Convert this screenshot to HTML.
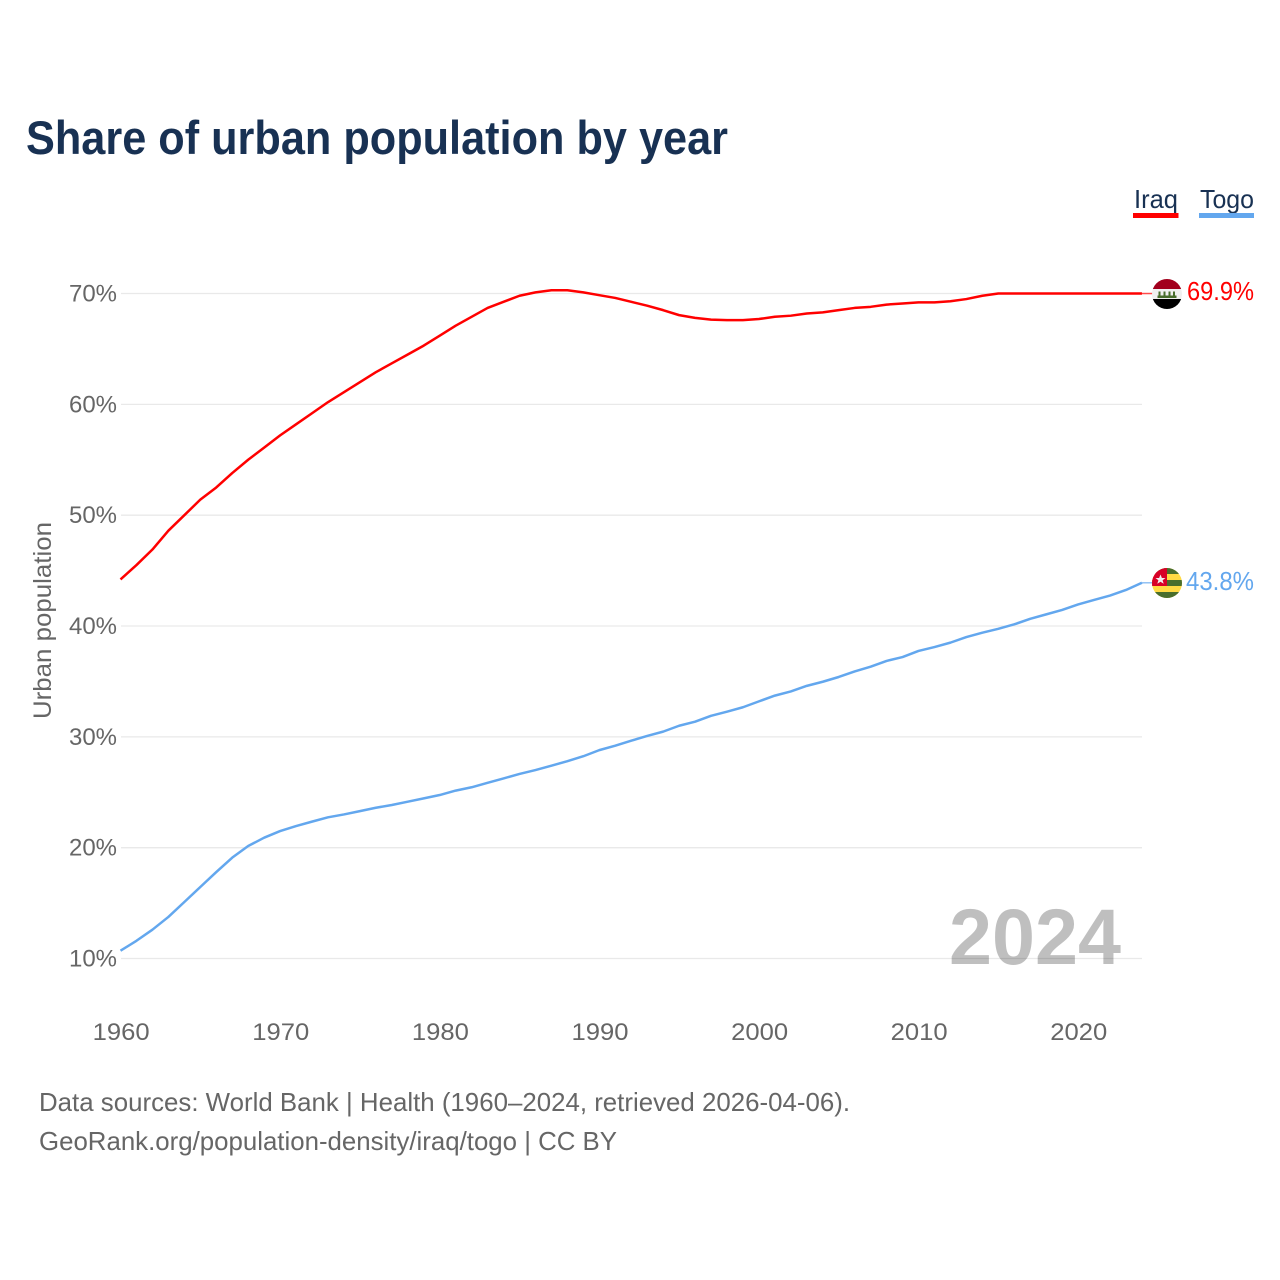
<!DOCTYPE html>
<html lang="en">
<head>
<meta charset="utf-8">
<title>Share of urban population by year</title>
<style>
html,body{margin:0;padding:0;background:#fff;width:1280px;height:1280px;overflow:hidden}
svg{display:block;font-family:"Liberation Sans",sans-serif}
</style>
</head>
<body>
<svg id="chart" width="1280" height="1280" viewBox="0 0 1280 1280" xmlns="http://www.w3.org/2000/svg">
  <rect width="1280" height="1280" fill="#ffffff"/>
  <text x="26" y="154" font-size="47" font-weight="700" fill="#183153" textLength="702" lengthAdjust="spacingAndGlyphs">Share of urban population by year</text>

  <g>
    <text x="1134" y="208" font-size="26" fill="#183153" textLength="44" lengthAdjust="spacingAndGlyphs">Iraq</text>
    <rect x="1133" y="213" width="45.5" height="5" fill="#ff0000"/>
  </g>
  <g>
    <text x="1200" y="208" font-size="26" fill="#183153" textLength="54" lengthAdjust="spacingAndGlyphs">Togo</text>
    <rect x="1199" y="213" width="55" height="5" fill="#63a7ee"/>
  </g>

  <g id="grid"></g>
  <g id="yticks"></g>
  <g id="xticks"></g>

  <text transform="translate(51,719) rotate(-90)" font-size="25" fill="#666666" textLength="197" lengthAdjust="spacingAndGlyphs">Urban population</text>

  <text x="949" y="964" font-size="79" font-weight="700" fill="#000000" fill-opacity="0.25" textLength="172" lengthAdjust="spacingAndGlyphs">2024</text>

  <g id="lines"></g>

  <defs>
    <clipPath id="iraq-clip"><circle cx="1167" cy="294" r="15"/></clipPath>
    <clipPath id="togo-clip"><circle cx="1167" cy="583" r="15"/></clipPath>
  </defs>
  <g clip-path="url(#iraq-clip)">
    <rect x="1152" y="279" width="30" height="10" fill="#a2001d"/>
    <rect x="1152" y="289" width="30" height="10" fill="#f0f0f0"/>
    <rect x="1152" y="299" width="30" height="10" fill="#000000"/>
    <rect x="1157.5" y="295.5" width="19" height="2.5" fill="#496e2d"/>
    <rect x="1158.5" y="291.5" width="2" height="5" fill="#496e2d"/>
    <rect x="1163.5" y="291.5" width="2" height="5" fill="#496e2d"/>
    <rect x="1168.5" y="291.5" width="2" height="5" fill="#496e2d"/>
    <rect x="1173" y="291.5" width="2" height="5" fill="#496e2d"/>
  </g>
  <g clip-path="url(#togo-clip)">
    <rect x="1152" y="568" width="30" height="30" fill="#ffda44"/>
    <rect x="1152" y="568" width="30" height="6" fill="#496e2d"/>
    <rect x="1152" y="580" width="30" height="6" fill="#496e2d"/>
    <rect x="1152" y="592" width="30" height="6" fill="#496e2d"/>
    <rect x="1152" y="568" width="15" height="18" fill="#d80027"/>
    <polygon points="1160.5,574.5 1161.9,578 1165.5,578 1162.6,580.2 1163.7,583.8 1160.5,581.7 1157.3,583.8 1158.4,580.2 1155.5,578 1159.1,578" fill="#f0f0f0"/>
  </g>

  <text x="1187" y="300" font-size="25.5" fill="#ff0000" textLength="67" lengthAdjust="spacingAndGlyphs">69.9%</text>
  <text x="1186" y="590" font-size="25.5" fill="#63a7ee" textLength="68" lengthAdjust="spacingAndGlyphs">43.8%</text>

  <text x="39" y="1111" font-size="26" fill="#666666" textLength="811" lengthAdjust="spacingAndGlyphs">Data sources: World Bank | Health (1960–2024, retrieved 2026-04-06).</text>
  <text x="39" y="1150" font-size="26" fill="#666666" textLength="578" lengthAdjust="spacingAndGlyphs">GeoRank.org/population-density/iraq/togo | CC BY</text>
</svg>
<script>
const years = [1960,1961,1962,1963,1964,1965,1966,1967,1968,1969,1970,1971,1972,1973,1974,1975,1976,1977,1978,1979,1980,1981,1982,1983,1984,1985,1986,1987,1988,1989,1990,1991,1992,1993,1994,1995,1996,1997,1998,1999,2000,2001,2002,2003,2004,2005,2006,2007,2008,2009,2010,2011,2012,2013,2014,2015,2016,2017,2018,2019,2020,2021,2022,2023,2024];
const iraqValues = [44.2,45.5,46.9,48.6,50.0,51.4,52.5,53.8,55.0,56.1,57.2,58.2,59.2,60.2,61.1,62,62.9,63.7,64.5,65.3,66.2,67.1,67.9,68.7,69.25,69.8,70.1,70.3,70.3,70.1,69.85,69.6,69.25,68.9,68.5,68.05,67.8,67.65,67.6,67.6,67.7,67.9,68,68.2,68.3,68.5,68.7,68.8,69,69.1,69.2,69.2,69.3,69.5,69.8,70,70,70,70,70,70,70,70,70,70];
const togoValues = [10.7,11.6,12.6,13.75,15.1,16.45,17.8,19.1,20.15,20.9,21.5,21.95,22.35,22.74,23.0,23.3,23.6,23.85,24.15,24.45,24.75,25.15,25.45,25.85,26.25,26.65,27.0,27.4,27.8,28.25,28.8,29.2,29.65,30.08,30.47,31,31.37,31.9,32.27,32.67,33.2,33.72,34.1,34.6,34.97,35.4,35.9,36.33,36.85,37.2,37.75,38.1,38.5,39,39.4,39.75,40.15,40.65,41.05,41.45,41.95,42.35,42.75,43.25,43.9];
const yTickValues = [10,20,30,40,50,60,70];
const yTickLabels = ['10%','20%','30%','40%','50%','60%','70%'];
const xTickValues = [1960,1970,1980,1990,2000,2010,2020];
const xTickLabels = ['1960','1970','1980','1990','2000','2010','2020'];

const SVG_NS = 'http://www.w3.org/2000/svg';
const xScale = function (year) { return 120.5 + (year - 1960) * 15.96; };
const yScale = function (value) { return 958.5 - (value - 10) * 11.083; };

const gridGroup = document.getElementById('grid');
const yTickGroup = document.getElementById('yticks');
const xTickGroup = document.getElementById('xticks');
const lineGroup = document.getElementById('lines');

yTickValues.forEach(function (value, i) {
  const gridLine = document.createElementNS(SVG_NS, 'line');
  
  
  gridLine.setAttribute('x1', 121);
  gridLine.setAttribute('x2', 1142);
  gridLine.setAttribute('y1', yScale(value));
  gridLine.setAttribute('y2', yScale(value));
  gridLine.setAttribute('stroke', '#e9e9e9');
  gridLine.setAttribute('stroke-width', 1.3);
  gridGroup.appendChild(gridLine);

  const tick = document.createElementNS(SVG_NS, 'text');
  
  
  tick.setAttribute('x', 69);
  tick.setAttribute('y', yScale(value) + 8);
  tick.setAttribute('font-size', 24.5);
  tick.setAttribute('fill', '#666666');
  tick.setAttribute('textLength', 48);
  tick.setAttribute('lengthAdjust', 'spacingAndGlyphs');
  tick.textContent = yTickLabels[i];
  yTickGroup.appendChild(tick);
});

xTickValues.forEach(function (value, i) {
  const tick = document.createElementNS(SVG_NS, 'text');
  
  
  tick.setAttribute('x', xScale(value) - 27.8);
  tick.setAttribute('y', 1040);
  tick.setAttribute('font-size', 24.5);
  tick.setAttribute('fill', '#666666');
  tick.setAttribute('textLength', 57);
  tick.setAttribute('lengthAdjust', 'spacingAndGlyphs');
  tick.textContent = xTickLabels[i];
  xTickGroup.appendChild(tick);
});

function pathFor(values) {
  return values.map(function (value, i) {
    return (i ? 'L' : 'M') + xScale(years[i]).toFixed(2) + ' ' + yScale(value).toFixed(2);
  }).join(' ');
}

function drawSeries(values, color, name) {
  const last = values[values.length - 1];
  const lastYear = years[years.length - 1];

  const connector = document.createElementNS(SVG_NS, 'line');
  
  
  connector.setAttribute('x1', xScale(lastYear));
  connector.setAttribute('x2', xScale(lastYear) + 12);
  connector.setAttribute('y1', yScale(last));
  connector.setAttribute('y2', yScale(last));
  connector.setAttribute('stroke', color);
  connector.setAttribute('stroke-width', 1.5);
  connector.setAttribute('opacity', 0.7);
  lineGroup.appendChild(connector);

  const path = document.createElementNS(SVG_NS, 'path');
  
  
  path.setAttribute('d', pathFor(values));
  path.setAttribute('fill', 'none');
  path.setAttribute('stroke', color);
  path.setAttribute('stroke-width', 2.5);
  path.setAttribute('stroke-linejoin', 'round');
  lineGroup.appendChild(path);
}

drawSeries(iraqValues, '#ff0000', 'iraq');
drawSeries(togoValues, '#63a7ee', 'togo');
</script>
</body>
</html>
